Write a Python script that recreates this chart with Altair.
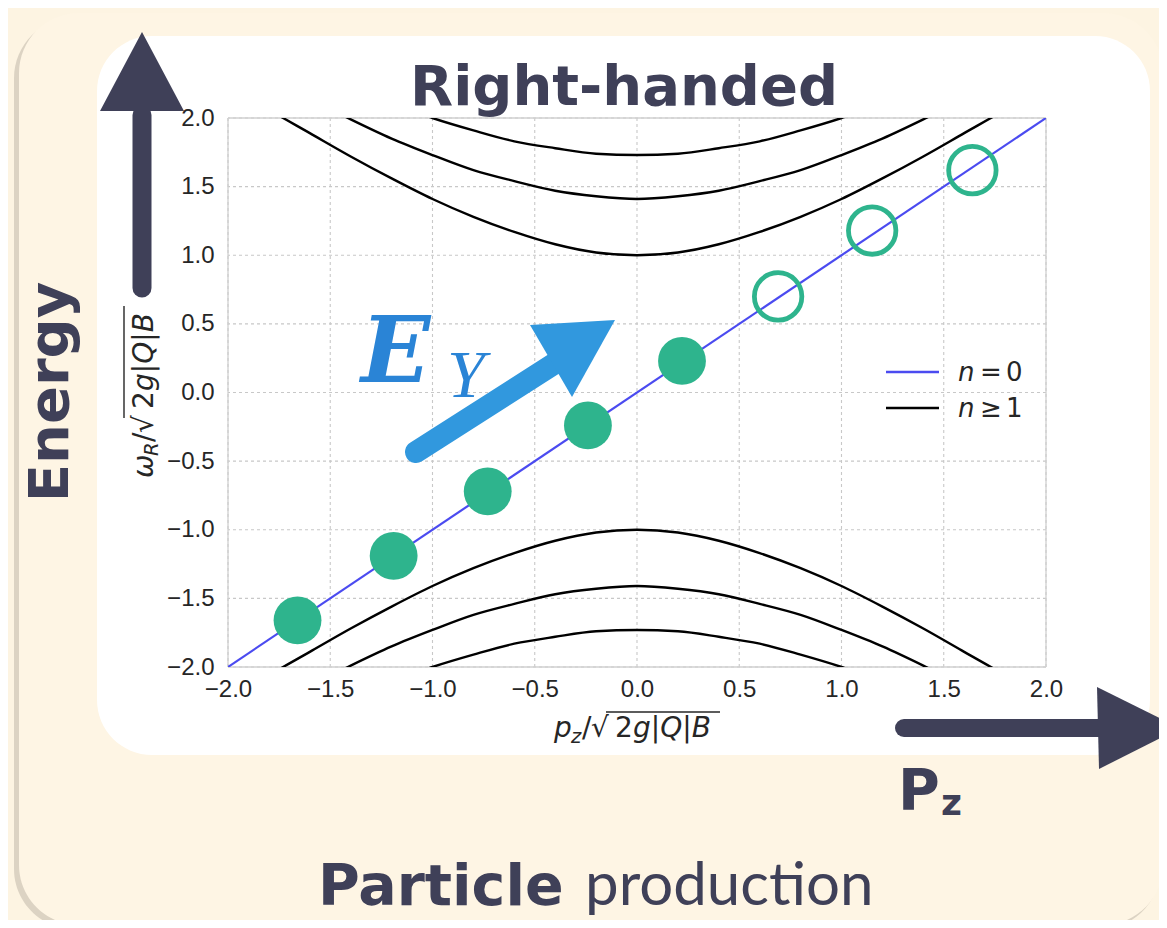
import altair as alt
import pandas as pd

# ---------------- data ----------------
TICKS = [-2.0, -1.5, -1.0, -0.5, 0.0, 0.5, 1.0, 1.5, 2.0]

P_GRID = [-2.0, -1.8, -1.6, -1.4, -1.2, -1.0, -0.8, -0.6, -0.4, -0.2, 0.0,
          0.2, 0.4, 0.6, 0.8, 1.0, 1.2, 1.4, 1.6, 1.8, 2.0]
N1_UP = [2.24, 2.06, 1.89, 1.72, 1.56, 1.41, 1.28, 1.17, 1.08, 1.02, 1.00,
         1.02, 1.08, 1.17, 1.28, 1.41, 1.56, 1.72, 1.89, 2.06, 2.24]
N2_UP = [2.45, 2.29, 2.14, 1.99, 1.85, 1.73, 1.62, 1.54, 1.47, 1.43, 1.41,
         1.43, 1.47, 1.54, 1.62, 1.73, 1.85, 1.99, 2.14, 2.29, 2.45]
N3_UP = [2.65, 2.50, 2.36, 2.23, 2.11, 2.00, 1.91, 1.83, 1.78, 1.74, 1.73,
         1.74, 1.78, 1.83, 1.91, 2.00, 2.11, 2.23, 2.36, 2.50, 2.65]
N1_LO = [-2.24, -2.06, -1.89, -1.72, -1.56, -1.41, -1.28, -1.17, -1.08, -1.02, -1.00,
         -1.02, -1.08, -1.17, -1.28, -1.41, -1.56, -1.72, -1.89, -2.06, -2.24]
N2_LO = [-2.45, -2.29, -2.14, -1.99, -1.85, -1.73, -1.62, -1.54, -1.47, -1.43, -1.41,
         -1.43, -1.47, -1.54, -1.62, -1.73, -1.85, -1.99, -2.14, -2.29, -2.45]
N3_LO = [-2.65, -2.50, -2.36, -2.23, -2.11, -2.00, -1.91, -1.83, -1.78, -1.74, -1.73,
         -1.74, -1.78, -1.83, -1.91, -2.00, -2.11, -2.23, -2.36, -2.50, -2.65]

N0_P = [-2.0, 2.0]
N0_W = [-2.0, 2.0]

FILLED_P = [-1.66, -1.19, -0.73, -0.24, 0.22]
FILLED_W = [-1.66, -1.19, -0.72, -0.24, 0.23]
OPEN_P = [0.69, 1.15, 1.64]
OPEN_W = [0.70, 1.18, 1.62]

# ---------------- styling ----------------
NAVY = "#3f4058"
GREEN = "#2eb48d"
BLUE = "#4b4bf0"
EBLUE = "#2a84d6"
ABLUE = "#3198de"
INK = "#262626"
BOLD_FONT = "DejaVu Sans"
MATH_FONT = "DejaVu Sans"

W, H = 818, 549
xs = alt.Scale(domain=[-2, 2], nice=False, zero=False)
ys = alt.Scale(domain=[-2, 2], nice=False, zero=False)
x_axis = alt.Axis(values=TICKS, format=".1f", grid=False, domain=False, ticks=False,
                  labelFont="Liberation Sans", labelFontSize=24, labelColor=INK,
                  labelPadding=10, title=None, zindex=1, labelFlush=False,
                  labelOverlap=False)
y_axis = alt.Axis(values=TICKS, format=".1f", grid=False, domain=False, ticks=False,
                  labelFont="Liberation Sans", labelFontSize=24, labelColor=INK,
                  labelPadding=14, title=None, zindex=1, labelFlush=False,
                  labelOverlap=False)


def X(f):
    return alt.X(f, type="quantitative", scale=xs, axis=x_axis)


def Y(f):
    return alt.Y(f, type="quantitative", scale=ys, axis=y_axis)


one = pd.DataFrame({"k": [0]})


def rrect(x1, x2, y1, y2, r, color):
    return alt.Chart(one).mark_rect(cornerRadius=r, color=color).encode(
        x=alt.value(x1), x2=alt.value(x2), y=alt.value(y1), y2=alt.value(y2))


def seg(x1, y1, x2, y2, w, color, cap="round"):
    return alt.Chart(one).mark_rule(strokeWidth=w, color=color, strokeCap=cap).encode(
        x=alt.value(x1), y=alt.value(y1), x2=alt.value(x2), y2=alt.value(y2))


def tri(pts, color):
    path = "M {} {} L {} {} L {} {} Z".format(*pts)
    return alt.Chart(one).mark_point(shape=path, size=4, filled=True, opacity=1,
                                     color=color, strokeWidth=0).encode(
        x=alt.value(0), y=alt.value(0))


def txt(s, x, y, size, color=INK, font=MATH_FONT, weight="normal", style="normal",
        angle=0, align="left"):
    return alt.Chart(one).mark_text(text=s, fontSize=size, font=font, fontWeight=weight,
                                    fontStyle=style, color=color, angle=angle,
                                    align=align, baseline="alphabetic").encode(
        x=alt.value(x), y=alt.value(y))


# ---------------- tables ----------------
rows = []
for name, vals in [("n1u", N1_UP), ("n2u", N2_UP), ("n3u", N3_UP),
                   ("n1l", N1_LO), ("n2l", N2_LO), ("n3l", N3_LO)]:
    for p, w in zip(P_GRID, vals):
        rows.append({"curve": name, "p": p, "w": w})
curves_df = pd.DataFrame(rows)
n0_df = pd.DataFrame({"p": N0_P, "w": N0_W})
filled_df = pd.DataFrame({"p": FILLED_P, "w": FILLED_W})
open_df = pd.DataFrame({"p": OPEN_P, "w": OPEN_W})
vgrid = pd.DataFrame({"p": TICKS})
hgrid = pd.DataFrame({"w": TICKS})
vborder = pd.DataFrame({"p": [TICKS[0], TICKS[-1]]})
hborder = pd.DataFrame({"w": [TICKS[0], TICKS[-1]]})

# ---------------- layers ----------------
layers = []
# background cards
layers.append(rrect(-214, 932, -100, 811, 60, "#dcd3c3"))
layers.append(rrect(-209, 935, -105, 807, 60, "#fef5e4"))
layers.append(rrect(-131, 922, -82, 637, 55, "#ffffff"))

# grid and frame
layers.append(alt.Chart(vgrid).mark_rule(color="#c8c8c8", strokeWidth=1.1,
                                         strokeDash=[3, 3]).encode(x=X("p")))
layers.append(alt.Chart(hgrid).mark_rule(color="#c8c8c8", strokeWidth=1.1,
                                         strokeDash=[3, 3]).encode(y=Y("w")))
layers.append(alt.Chart(vborder).mark_rule(color="#d0d0d0", strokeWidth=1.3).encode(x=X("p")))
layers.append(alt.Chart(hborder).mark_rule(color="#d0d0d0", strokeWidth=1.3).encode(y=Y("w")))

# dispersion curves
layers.append(alt.Chart(curves_df).mark_line(color="black", strokeWidth=2.4, clip=True,
                                             interpolate="monotone").encode(
    x=X("p"), y=Y("w"), detail="curve:N"))
layers.append(alt.Chart(n0_df).mark_line(color=BLUE, strokeWidth=2.2, clip=True).encode(
    x=X("p"), y=Y("w")))

# particles
layers.append(alt.Chart(filled_df).mark_point(shape="circle", filled=True, size=2290,
                                              opacity=1, color=GREEN, strokeWidth=0).encode(
    x=X("p"), y=Y("w")))
layers.append(alt.Chart(open_df).mark_point(shape="circle", filled=False, size=2250,
                                            opacity=1, color=GREEN, strokeWidth=4.8).encode(
    x=X("p"), y=Y("w")))

# legend
layers.append(seg(658, 254, 711, 254, 2.5, BLUE, cap="butt"))
layers.append(seg(658, 290, 711, 290, 2.5, "black", cap="butt"))
layers.append(txt("n", 730, 263, 26, style="italic"))
layers.append(txt("=", 752, 263, 26))
layers.append(txt("0", 778, 263, 26))
layers.append(txt("n", 730, 299, 26, style="italic"))
layers.append(txt("\u2265", 752, 299, 26))
layers.append(txt("1", 778, 299, 26))

# axis titles (mathtext-like)
layers.append(txt("p", 326, 619, 28, style="italic"))
layers.append(txt("z", 343, 625, 19.6, style="italic"))
layers.append(txt("/", 354, 619, 28))
layers.append(txt("\u221a", 363, 619, 28))
layers.append(seg(378, 594, 492, 594, 1.4, INK, cap="butt"))
layers.append(txt("2", 387, 619, 28))
layers.append(txt("g|Q|B", 405, 619, 28, style="italic"))

layers.append(txt("\u03c9", -75, 360, 28, style="italic", angle=270))
layers.append(txt("R", -70, 338, 19.6, style="italic", angle=270))
layers.append(txt("/", -75, 324, 28, angle=270))
layers.append(txt("\u221a", -75, 315, 28, angle=270))
layers.append(seg(-104, 300, -104, 188, 1.4, INK, cap="butt"))
layers.append(txt("2", -75, 291, 28, angle=270))
layers.append(txt("g|Q|B", -75, 273, 28, style="italic", angle=270))

# hand-drawn arrows
layers.append(seg(-86, 170, -86, -3, 19, NAVY))
layers.append(tri([-86, -86, -128, -7, -44, -7], NAVY))
layers.append(seg(676, 610, 872, 610, 18, NAVY))
layers.append(tri([869, 569, 871, 651, 952, 610], NAVY))
layers.append(seg(188, 334, 332, 242, 22, ABLUE))
layers.append(tri([302, 207, 387, 202, 344, 279], ABLUE))

# E_Y label
layers.append(txt("E", 133, 264, 91, color=EBLUE, font="DejaVu Serif",
                  weight="bold", style="italic"))
layers.append(txt("Y", 219, 279, 68, color=EBLUE, font="Liberation Serif", style="italic"))

# slide text
layers.append(txt("Right-handed", 396, -13, 56, color=NAVY, font=BOLD_FONT,
                  weight="bold", align="center"))
layers.append(txt("Energy", -160, 274, 56, color=NAVY, font=BOLD_FONT, weight="bold",
                  angle=270, align="center"))
layers.append(txt("P", 670, 692, 57, color=NAVY, font=BOLD_FONT, weight="bold"))
layers.append(txt("z", 713, 697, 36, color=NAVY, font=BOLD_FONT, weight="bold"))
layers.append(txt("Particle", 90, 787, 57, color=NAVY, font=BOLD_FONT, weight="bold"))
layers.append(txt("production", 357, 787, 60, color=NAVY, font="Lato"))

chart = alt.layer(*layers).properties(
    width=W, height=H,
    padding={"left": 220, "top": 110, "right": 113, "bottom": 253},
    autosize=alt.AutoSizeParams(type="none"),
    background="#fdf4e2",
).configure_view(stroke=None)

chart.save("out.html", embed_options={"renderer": "svg", "actions": False})
